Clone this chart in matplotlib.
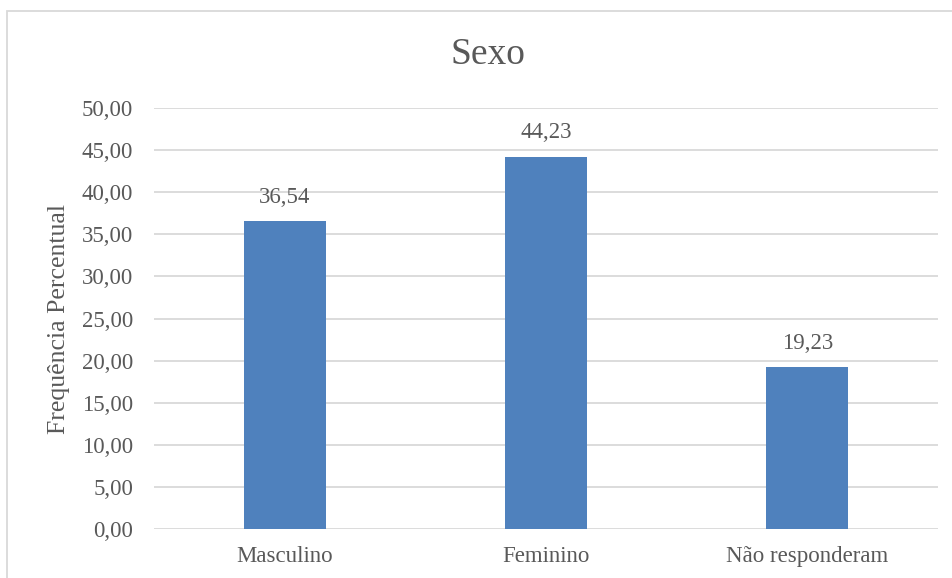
import matplotlib.pyplot as plt
from matplotlib.patches import Rectangle

categories = ['Masculino', 'Feminino', 'Não responderam']
values = [36.54, 44.23, 19.23]
yticks = [0, 5, 10, 15, 20, 25, 30, 35, 40, 45, 50]

plt.rcParams['font.family'] = ['Liberation Serif', 'DejaVu Serif']
text_color = '#595959'
grid_color = '#d9d9d9'

fig = plt.figure(figsize=(9.52, 5.78), dpi=100)
ax = fig.add_axes([154 / 952, 49 / 578, 784 / 952, 421 / 578])

x = range(len(categories))
ax.bar(x, values, width=0.315, color='#4f81bd', zorder=3)

# labels over the bars, comma decimals
for xi, v in zip(x, values):
    ax.annotate(f'{v:.2f}'.replace('.', ','), (xi, v), xytext=(0, 17),
                textcoords='offset points', ha='center', va='center',
                fontsize=16.5, color=text_color)

ax.set_xlim(-0.5, 2.5)
ax.set_ylim(0, 50)
ax.set_yticks(yticks)
ax.set_yticklabels([f'{t:.2f}'.replace('.', ',') for t in yticks])
ax.set_xticks(list(x))
ax.set_xticklabels(categories)
ax.tick_params(length=0, labelsize=16.5, labelcolor=text_color)
ax.tick_params(axis='y', pad=15)
ax.tick_params(axis='x', pad=12)
ax.grid(axis='y', color=grid_color, linewidth=1.3, zorder=0)
for s in ax.spines.values():
    s.set_visible(False)

ax.set_ylabel('Frequência Percentual', fontsize=18.5, color=text_color, va='center')
ax.yaxis.set_label_coords(-95 / 784, 0.5)
fig.text(488 / 952, 1 - 55 / 578, 'Sexo', ha='center', va='center',
         fontsize=27, color=text_color)

# chart border, cut off at right and bottom as in the original
fig.patches.append(Rectangle((7 / 952, -0.1), 1.2, 1 - 11 / 578 + 0.1,
                             transform=fig.transFigure, fill=False,
                             edgecolor=grid_color, linewidth=1.3))

fig.savefig('out.png', dpi=100)
